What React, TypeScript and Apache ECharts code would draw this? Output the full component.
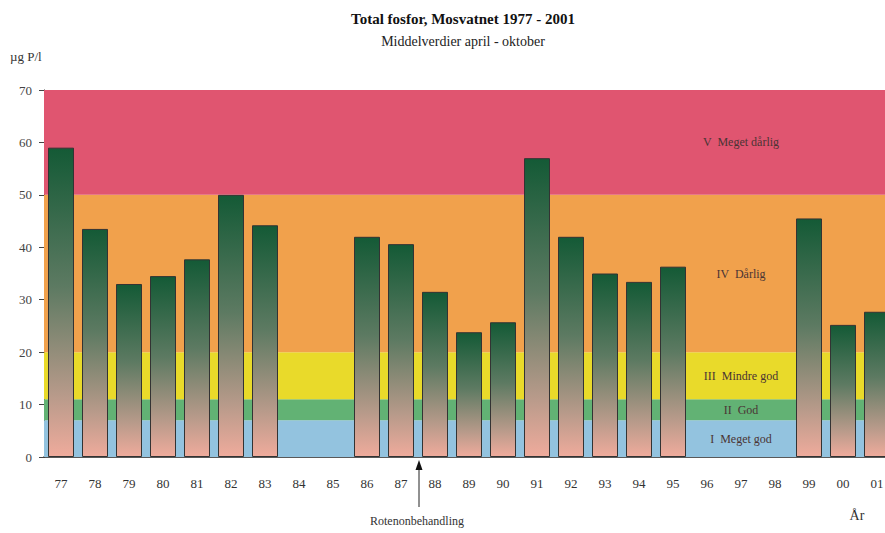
import React, { useEffect, useRef } from "react";
import * as echarts from "echarts";

const years = ["77","78","79","80","81","82","83","84","85","86","87","88","89","90","91","92","93","94","95","96","97","98","99","00","01"];
const values: (number | null)[] = [59,43.5,33,34.5,37.7,50,44.2,null,null,42,40.6,31.5,23.8,25.7,57,42,35,33.4,36.3,null,null,null,45.5,25.2,27.7];
const bandLimits = [0, 7, 11, 20, 50, 70];
const bandColors = ["#93c3df", "#62b274", "#e9da2a", "#f1a14c", "#e05570"];
const bandLabels = ["I  Meget god", "II  God", "III  Mindre god", "IV  Dårlig", "V  Meget dårlig"];
const yTicks = [0, 10, 20, 30, 40, 50, 60, 70];

const serif = "'Liberation Serif', 'DejaVu Serif', serif";

export default function App() {
  const ref = useRef<HTMLDivElement>(null);
  useEffect(() => {
    if (!ref.current) return;
    const chart = echarts.init(ref.current, null, { renderer: "svg" });
    const bands = bandColors.map((c, i) => [
      { yAxis: bandLimits[i], itemStyle: { color: c } },
      { yAxis: bandLimits[i + 1] },
    ]);
    const labelAreas = bandLabels.map((l, i) => [
      { xAxis: "96", yAxis: bandLimits[i], name: l },
      { xAxis: "98", yAxis: bandLimits[i + 1] },
    ]);
    chart.setOption({
      animation: false,
      title: {
        text: "Total fosfor, Mosvatnet 1977 - 2001",
        subtext: "Middelverdier april - oktober",
        left: 458,
        top: 6,
        textAlign: "center",
        itemGap: 8,
        textStyle: { fontFamily: serif, fontSize: 15, fontWeight: "bold", color: "#111" },
        subtextStyle: { fontFamily: serif, fontSize: 14, color: "#222" },
      },
      grid: { left: 44, right: 6, top: 90, bottom: 76 },
      xAxis: {
        type: "category",
        data: years,
        axisLine: { lineStyle: { color: "#222", width: 1.5 } },
        axisTick: { show: false },
        axisLabel: { fontFamily: serif, fontSize: 13, color: "#333", margin: 20 },
      },
      yAxis: {
        type: "value",
        min: 0,
        max: 70,
        interval: 10,
        axisLine: { show: true, lineStyle: { color: "#222" } },
        axisTick: { show: true, length: 5, lineStyle: { color: "#444" } },
        splitLine: { show: false },
        axisLabel: {
          fontFamily: serif,
          fontSize: 13,
          color: "#444",
          margin: 12,
          formatter: (v: number) => (yTicks.includes(v) ? String(v) : ""),
        },
      },
      series: [
        {
          type: "line",
          data: [],
          z: 0,
          silent: true,
          markArea: { silent: true, data: bands },
        },
        {
          type: "line",
          data: [],
          z: 1,
          silent: true,
          markArea: {
            silent: true,
            itemStyle: { color: "rgba(0,0,0,0)" },
            label: {
              show: true,
              position: "inside",
              fontFamily: serif,
              fontSize: 12,
              color: "#4a3434",
            },
            data: labelAreas,
          },
        },
        {
          type: "bar",
          data: values,
          z: 5,
          barWidth: 26,
          itemStyle: {
            borderColor: "#333",
            borderWidth: 1,
            color: new echarts.graphic.LinearGradient(0, 0, 0, 1, [
              { offset: 0, color: "#145a36" },
              { offset: 0.45, color: "#5d7a62" },
              { offset: 0.8, color: "#b79a8a" },
              { offset: 1, color: "#efab9c" },
            ]),
          },
        },
      ],
    });
    const x87 = chart.convertToPixel({ xAxisIndex: 0 }, "87") as number;
    const x88 = chart.convertToPixel({ xAxisIndex: 0 }, "88") as number;
    const yZero = chart.convertToPixel({ yAxisIndex: 0 }, 0) as number;
    const ax = (x87 + x88) / 2 + 1;
    chart.setOption({
      graphic: [
        {
          type: "text",
          left: 10,
          top: 50,
          style: { text: "µg P/l", fontFamily: serif, fontSize: 13, fill: "#333" },
        },
        {
          type: "line",
          shape: { x1: ax, y1: yZero + 12, x2: ax, y2: yZero + 50 },
          style: { stroke: "#222", lineWidth: 1 },
        },
        {
          type: "polygon",
          shape: { points: [[ax, yZero + 3], [ax - 3.5, yZero + 13], [ax + 3.5, yZero + 13]] },
          style: { fill: "#111" },
        },
        {
          type: "text",
          x: ax - 2,
          y: yZero + 58,
          style: {
            text: "Rotenonbehandling",
            fontFamily: serif,
            fontSize: 12,
            fill: "#333",
            align: "center",
          },
        },
        {
          type: "text",
          x: 857,
          y: 508,
          style: { text: "År", fontFamily: serif, fontSize: 14, fill: "#333", align: "center" },
        },
      ],
    });
    return () => chart.dispose();
  }, []);
  return (
    <div style={{ position: "fixed", left: 0, top: 0, width: 885, height: 533, overflow: "hidden", background: "#fff" }}>
      <div ref={ref} style={{ width: 900, height: 533 }} />
    </div>
  );
}
